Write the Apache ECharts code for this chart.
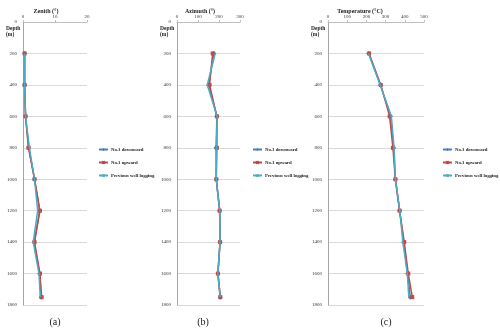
<!DOCTYPE html>
<html>
<head>
<meta charset="utf-8">
<script src="https://cdn.jsdelivr.net/npm/echarts@6/dist/echarts.min.js"></script>
<style>
  html, body { margin: 0; padding: 0; background: #fff; }
  #chart { width: 500px; height: 330px; }
</style>
</head>
<body>
<div id="chart"></div>
<script>
// depth of each survey point (m)
const depths = [200, 400, 600, 800, 1000, 1200, 1400, 1600, 1750];

// zenith angle (deg)
const zenithDown = [0.5, 0.5, 0.8, 1.8, 3.6, 5.2, 3.5, 5.2, 5.7];
const zenithUp   = [0.5, 0.5, 0.8, 1.7, 3.6, 5.3, 3.6, 5.3, 5.8];
const zenithPrev = [0.5, 0.5, 0.8, 2.0, 3.6, 4.6, 3.2, 5.0, 5.4];

// azimuth (deg)
const azimuthDown = [176, 150, 190, 186, 187, 203, 205, 195, 206];
const azimuthUp   = [170, 155, 190, 190, 187, 203, 205, 195, 206];
const azimuthPrev = [182, 144, 191, 188, 187, 204, 205, 194, 206];

// temperature (degC)
const tempDown = [212, 273, 326, 342, 351, 373, 394, 415, 428];
const tempUp   = [214, 275, 321, 338, 351, 373, 397, 418, 439];
const tempPrev = [211, 272, 330, 344, 351, 374, 390, 413, 421];

const seriesNames = ['No.1 downward', 'No.1 upward', 'Previous well logging'];
const panelTitles = ['Zenith (°)', 'Azimuth (°)', 'Temperature (°C)'];
const panelLabels = ['(a)', '(b)', '(c)'];
const xMax = [20, 300, 500];
const xStep = [10, 100, 100];

const serif = 'Liberation Serif';
const colors = ['#4A7EBB', '#BE4B48', '#4BACC6'];

// panel geometry
const panels = [
  { left: 23, width: 64, legendX: 93, titleX: 41, labelX: 50 },
  { left: 177, width: 63, legendX: 247, titleX: 195, labelX: 198 },
  { left: 328, width: 96, legendX: 437, titleX: 355, labelX: 381 }
];
const gridTop = 22, gridHeight = 283;

const data = [
  [zenithDown, zenithUp, zenithPrev],
  [azimuthDown, azimuthUp, azimuthPrev],
  [tempDown, tempUp, tempPrev]
];

function pairs(vals) {
  return vals.map((v, i) => [v, depths[i]]);
}

let chart = echarts.init(document.getElementById('chart'));

let grids = [], xAxes = [], yAxes = [], series = [], legends = [], titles = [], graphics = [];

panels.forEach((p, k) => {
  grids.push({ left: p.left, top: gridTop, width: p.width, height: gridHeight });
  xAxes.push({
    gridIndex: k,
    type: 'value',
    position: 'top',
    min: 0, max: xMax[k], interval: xStep[k],
    axisLine: { show: true, lineStyle: { color: '#bfbfbf', width: 1 } },
    axisTick: { show: true, length: 2, lineStyle: { color: '#bfbfbf' } },
    axisLabel: { fontFamily: serif, fontSize: 5, color: '#333', margin: 3 },
    splitLine: { show: false }
  });
  yAxes.push({
    gridIndex: k,
    type: 'value',
    inverse: true,
    min: 0, max: 1800, interval: 200,
    axisLine: { show: true, lineStyle: { color: '#a6a6a6', width: 1 } },
    axisTick: { show: false },
    axisLabel: { fontFamily: serif, fontSize: 5, color: '#333', margin: 6, formatter: v => String(v) },
    splitLine: { show: true, lineStyle: { color: '#d9d9d9', width: 1 } }
  });
  const names = [];
  data[k].forEach((vals, j) => {
    series.push({
      name: seriesNames[j] + ' ' + k,
      type: 'line',
      xAxisIndex: k,
      yAxisIndex: k,
      data: pairs(vals),
      color: colors[j],
      lineStyle: { width: 1.5, color: colors[j] },
      symbol: j === 0 ? 'diamond' : (j === 1 ? 'rect' : 'none'),
      symbolSize: j === 0 ? 5 : 4,
      itemStyle: { color: colors[j] },
      z: 2 + j,
      animation: false
    });
    names.push({ name: seriesNames[j] + ' ' + k });
  });
  legends.push({
    orient: 'vertical',
    left: p.legendX,
    top: 142,
    itemGap: 8,
    itemWidth: 9,
    itemHeight: 4,
    data: names,
    formatter: n => n.replace(/ \d$/, ''),
    textStyle: { fontFamily: serif, fontSize: 4.8, fontWeight: 'bold', color: '#222', padding: [0, 0, 0, -2] },
    selectedMode: false
  });
  titles.push({
    text: panelTitles[k],
    left: p.titleX,
    top: 3,
    textAlign: 'center',
    textStyle: { fontFamily: serif, fontSize: 6, fontWeight: 'bold', color: '#222' }
  });
  titles.push({
    text: panelLabels[k],
    left: p.labelX,
    top: 312,
    textAlign: 'center',
    textStyle: { fontFamily: serif, fontSize: 10, fontWeight: 'normal', color: '#222' }
  });
  graphics.push({
    type: 'text',
    left: p.left - 17,
    top: 26,
    style: {
      text: 'Depth\n(m)',
      align: 'center',
      font: 'bold 5.5px "Liberation Serif"',
      fill: '#222',
      lineHeight: 6
    }
  });
});

let option = {
  backgroundColor: '#fff',
  animation: false,
  title: titles,
  legend: legends,
  grid: grids,
  xAxis: xAxes,
  yAxis: yAxes,
  series: series,
  graphic: graphics
};
chart.setOption(option);
</script>
</body>
</html>
